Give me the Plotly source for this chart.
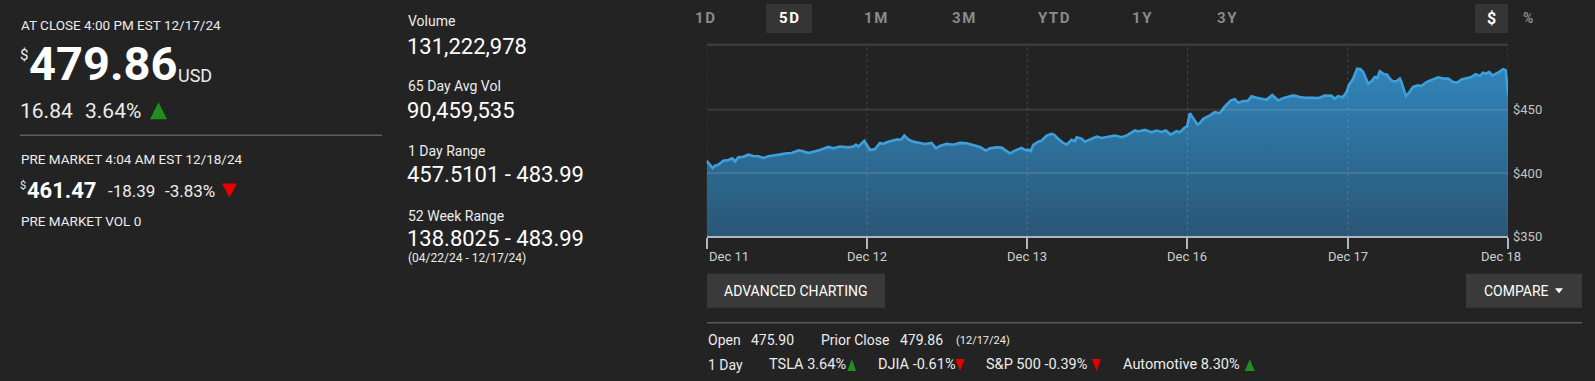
import plotly.graph_objects as go

W, H = 1595, 381          # reference picture size (layout is designed in these pixels)
FIG_H = 390               # rendered figure height (viewport is squeezed to 381 when photographed)
FONT = "Roboto, Arial, sans-serif"
BG = "#232323"

# ---- chart data (5-day intraday, x = trading-day position) ----
day_labels = ["Dec 11", "Dec 12", "Dec 13", "Dec 16", "Dec 17", "Dec 18"]
day_pos = [
    0.000, 0.017, 0.037, 0.052, 0.073, 0.104, 0.135, 0.160, 0.177, 0.197,
    0.229, 0.260, 0.291, 0.322, 0.353, 0.385, 0.405, 0.447, 0.499, 0.530,
    0.572, 0.603, 0.634, 0.676, 0.707, 0.759, 0.790, 0.832, 0.884, 0.915,
    0.931, 0.946, 0.983, 1.019, 1.050, 1.081, 1.102, 1.123, 1.154, 1.185,
    1.216, 1.233, 1.258, 1.289, 1.331, 1.362, 1.403, 1.431, 1.455, 1.497,
    1.539, 1.580, 1.622, 1.663, 1.705, 1.742, 1.767, 1.809, 1.840, 1.867,
    1.892, 1.923, 1.965, 1.986, 2.006, 2.021, 2.038, 2.069, 2.090, 2.121,
    2.152, 2.167, 2.194, 2.225, 2.246, 2.277, 2.298, 2.308, 2.339, 2.360,
    2.391, 2.433, 2.464, 2.516, 2.547, 2.589, 2.620, 2.672, 2.693, 2.734,
    2.776, 2.807, 2.838, 2.865, 2.894, 2.932, 2.953, 2.984, 2.998, 3.015,
    3.040, 3.061, 3.077, 3.098, 3.140, 3.171, 3.202, 3.233, 3.271, 3.296,
    3.317, 3.348, 3.375, 3.400, 3.431, 3.462, 3.493, 3.529, 3.566, 3.597,
    3.629, 3.660, 3.701, 3.733, 3.784, 3.816, 3.857, 3.899, 3.920, 3.940,
    3.968, 3.993, 4.009, 4.034, 4.059, 4.080, 4.096, 4.128, 4.148, 4.169,
    4.184, 4.200, 4.221, 4.246, 4.259, 4.279, 4.304, 4.325, 4.335, 4.363,
    4.377, 4.408, 4.439, 4.460, 4.491, 4.533, 4.564, 4.595, 4.627, 4.658,
    4.683, 4.710, 4.741, 4.772, 4.799, 4.824, 4.845, 4.866, 4.882, 4.903,
    4.938, 4.970, 4.986, 5.000,
]
price = [
    409.7, 407.1, 403.9, 405.8, 406.6, 409.7, 410.3, 411.6, 409.2, 412.4,
    412.9, 414.5, 413.5, 413.2, 411.9, 413.2, 413.5, 414.5, 415.6, 415.8,
    417.9, 417.2, 415.8, 416.9, 418.2, 420.6, 419.5, 420.9, 420.3, 420.9,
    422.4, 420.9, 425.4, 418.2, 419.0, 423.8, 423.0, 424.3, 425.6, 426.4,
    426.7, 429.6, 426.5, 424.8, 423.8, 423.0, 423.8, 419.5, 421.4, 423.0,
    422.4, 423.8, 423.5, 421.9, 420.6, 417.7, 419.5, 420.3, 420.1, 417.7,
    415.6, 417.7, 419.8, 418.2, 418.5, 417.2, 422.2, 424.8, 425.6, 429.6,
    430.9, 430.4, 426.9, 423.8, 422.4, 426.2, 425.1, 428.3, 427.2, 424.8,
    426.7, 428.8, 427.7, 429.1, 429.6, 428.3, 429.6, 433.6, 432.8, 434.1,
    432.2, 433.6, 432.5, 433.6, 430.4, 433.0, 432.2, 436.2, 437.0, 447.3,
    442.0, 438.3, 439.4, 442.8, 445.5, 448.1, 447.3, 452.6, 457.4, 458.4,
    455.5, 456.8, 456.8, 460.6, 459.5, 458.7, 457.9, 461.6, 457.4, 459.2,
    460.0, 461.3, 460.0, 459.5, 459.5, 459.2, 461.3, 461.1, 458.7, 460.8,
    459.8, 464.0, 469.8, 474.6, 482.5, 482.0, 479.9, 470.6, 472.5, 475.9,
    475.1, 480.4, 478.5, 477.8, 475.1, 472.5, 472.5, 474.6, 471.9, 460.8,
    462.7, 468.0, 469.3, 468.8, 471.9, 474.0, 475.6, 474.6, 474.6, 471.9,
    471.4, 474.0, 475.1, 475.9, 478.0, 476.7, 479.3, 478.5, 479.9, 477.2,
    479.3, 482.0, 481.2, 461.5,
]
y_ticks = [350, 400, 450]
y_tick_text = ["$350", "$400", "$450"]
y_range = [350, 501.3]

# ---- quote panel texts ----
close_label = "AT CLOSE 4:00 PM EST 12/17/24"
close_price = "479.86"
close_change = "16.84"
close_pct = "3.64%"
pre_label = "PRE MARKET 4:04 AM EST 12/18/24"
pre_price = "461.47"
pre_change = "-18.39"
pre_pct = "-3.83%"
pre_vol = "PRE MARKET VOL 0"
stat_labels = ["Volume", "65 Day Avg Vol", "1 Day Range", "52 Week Range"]
stat_values = ["131,222,978", "90,459,535", "457.5101 - 483.99", "138.8025 - 483.99"]
range_dates = "(04/22/24 - 12/17/24)"
tabs = ["1D", "5D", "1M", "3M", "YTD", "1Y", "3Y"]
tab_x = [704.5, 789, 876, 963.5, 1054, 1142, 1227]
open_price = "475.90"
prior_close = "479.86"
prior_date = "(12/17/24)"
perf_names = ["TSLA 3.64%", "DJIA -0.61%", "S&P 500 -0.39%", "Automotive 8.30%"]
perf_up = [True, False, False, True]

fig = go.Figure()
fig.add_trace(go.Scatter(
    x=day_pos, y=price, mode="lines",
    line=dict(color="#3ca0dd", width=2.6),
    fill="tozeroy",
    fillgradient=dict(type="vertical", start=350, stop=485,
                      colorscale=[[0, "#2a5573"], [1, "#3185bb"]]),
    hoverinfo="skip", showlegend=False,
))

ann = []
shapes = []


def px2p(px, py):
    return px / W, 1 - py / H


def txt(px, py, s, size, color="#ececec", bold=False, anchor="left", family=FONT):
    x, y = px2p(px, py)
    ann.append(dict(x=x, y=y, xref="paper", yref="paper",
                    text=("<b>%s</b>" % s) if bold else s, showarrow=False,
                    xanchor=anchor, yanchor="middle",
                    font=dict(size=size, color=color, family=family)))


def rect(x0, y0, x1, y1, color):
    a, b = px2p(x0, y1)
    c, d = px2p(x1, y0)
    shapes.append(dict(type="rect", xref="paper", yref="paper", x0=a, y0=b, x1=c, y1=d,
                       fillcolor=color, line=dict(width=0), layer="below"))


def hline(x0, x1, y, color, width=1):
    a, b = px2p(x0, y)
    c, _ = px2p(x1, y)
    shapes.append(dict(type="line", xref="paper", yref="paper", x0=a, y0=b, x1=c, y1=b,
                       line=dict(color=color, width=width)))


def tri(x0, x1, ytop, ybot, up, color):
    xm = (x0 + x1) / 2
    if up:
        pts = [(xm, ytop), (x0, ybot), (x1, ybot)]
    else:
        pts = [(x0, ytop), (x1, ytop), (xm, ybot)]
    path = "M " + " L ".join("%.5f,%.5f" % px2p(a, b) for a, b in pts) + " Z"
    shapes.append(dict(type="path", xref="paper", yref="paper", path=path,
                       fillcolor=color, line=dict(width=0)))


GREEN = "#1f8f1f"
RED = "#e60000"

# left panel
txt(19, 24.5, close_label, 13.5)
txt(18, 55, "$", 15)
txt(27, 63, close_price, 47, bold=True, color="#ffffff")
txt(176, 75, "USD", 18)
txt(18, 111, close_change, 21)
txt(83, 111, close_pct, 21)
tri(150, 167, 102, 119, True, GREEN)
hline(20, 382, 135, "#5e5e5e", 1.5)
txt(19, 158.5, pre_label, 13.5)
txt(18, 185, "$", 11)
txt(25, 190, pre_price, 22, bold=True, color="#ffffff")
txt(106, 190.5, pre_change, 17)
txt(163, 190.5, pre_pct, 17)
tri(222, 237, 183, 197, False, RED)
txt(19, 220, pre_vol, 13.5)

# middle stats panel
stat_y = [(21, 46), (86, 110), (151, 174), (215, 238)]
for (ly, vy), lab, val in zip(stat_y, stat_labels, stat_values):
    txt(406, ly, lab, 14)
    txt(405, vy, val, 22, color="#ffffff")
txt(406, 257, range_dates, 12)

# period tabs
HS = "\u200a"
rect(766, 4, 812, 33, "#353535")
for label, x in zip(tabs, tab_x):
    txt(x, 18, HS.join(label), 15, bold=True,
        color="#ffffff" if label == "5D" else "#8a8a8a", anchor="center")
rect(1475, 4, 1508, 33, "#353535")
txt(1491.7, 18, "$", 16, bold=True, color="#ffffff", anchor="center")
txt(1527.7, 18, "%", 14, bold=True, color="#8a8a8a", anchor="center")

# buttons
rect(707, 273, 885, 307, "#3a3a3a")
txt(796, 290, "ADVANCED CHARTING", 14, color="#ffffff", anchor="center")
rect(1466, 273, 1582, 307, "#3a3a3a")
txt(1516, 290, "COMPARE", 14, color="#ffffff", anchor="center")
tri(1555, 1563, 287.5, 292.5, False, "#ffffff")
hline(707, 1582, 322, "#5a5a5a", 1.5)

# bottom info rows
txt(706, 339, "Open", 14)
txt(749, 339, open_price, 14)
txt(819, 339, "Prior Close", 14)
txt(898, 339, prior_close, 14)
txt(954, 340, prior_date, 11)
txt(706, 364, "1 Day", 14)
perf_x = [766.5, 876, 983.5, 1120.5]
perf_tri = [(847.4, 856.2), (955.4, 964.7), (1092, 1101), (1244.8, 1254.7)]
for name, x, (t0, t1), up in zip(perf_names, perf_x, perf_tri, perf_up):
    txt(x, 364, name, 14.5)
    tri(t0, t1, 358, 370, up, GREEN if up else RED)

# chart gridlines / borders (over fill, translucent)
for yv in [400, 450]:
    shapes.append(dict(type="line", xref="x", yref="y", x0=0, x1=5, y0=yv, y1=yv,
                       line=dict(color="rgba(255,255,255,0.10)", width=2), layer="above"))
for i in range(len(day_labels)):
    shapes.append(dict(type="line", xref="x", yref="y domain", x0=i, x1=i, y0=0, y1=1,
                       line=dict(color="rgba(255,255,255,0.16)", width=1, dash="dot"),
                       layer="above"))
shapes.append(dict(type="line", xref="x", yref="y domain", x0=0, x1=5, y0=1, y1=1,
                   line=dict(color="#3c3c3c", width=2.5), layer="above"))

# x tick labels
for i, lab in enumerate(day_labels):
    first = i == 0
    last = i == len(day_labels) - 1
    ann.append(dict(x=i, y=1 - 256 / H, xref="x", yref="paper", text=lab, showarrow=False,
                    xanchor="left" if first else "center", yanchor="middle",
                    xshift=-7 if last else 0,
                    font=dict(size=13, color="#cfcfcf", family=FONT)))

fig.update_layout(
    width=W, height=FIG_H, margin=dict(l=0, r=0, t=0, b=0),
    paper_bgcolor=BG, plot_bgcolor=BG,
    xaxis=dict(domain=[706.7 / W, 1508 / W], range=[0, 5],
               tickvals=list(range(len(day_labels))), showticklabels=False,
               showgrid=False, zeroline=False, showline=True,
               linecolor="#aeb6bf", linewidth=2, ticks="outside", ticklen=11,
               tickwidth=2, tickcolor="#aeb6bf", fixedrange=True),
    yaxis=dict(domain=[1 - 235.7 / H, 1 - 44.7 / H], range=y_range, side="right",
               tickvals=y_ticks, ticktext=y_tick_text, showgrid=False, zeroline=False,
               showline=False, ticks="", ticklabelstandoff=4,
               tickfont=dict(size=13, color="#c4c4c4", family=FONT), fixedrange=True),
    annotations=ann, shapes=shapes, showlegend=False,
)

fig.write_html("out.html", config={"displayModeBar": False},
               post_script="document.body.style.margin='0';document.body.style.background='%s';" % BG)
